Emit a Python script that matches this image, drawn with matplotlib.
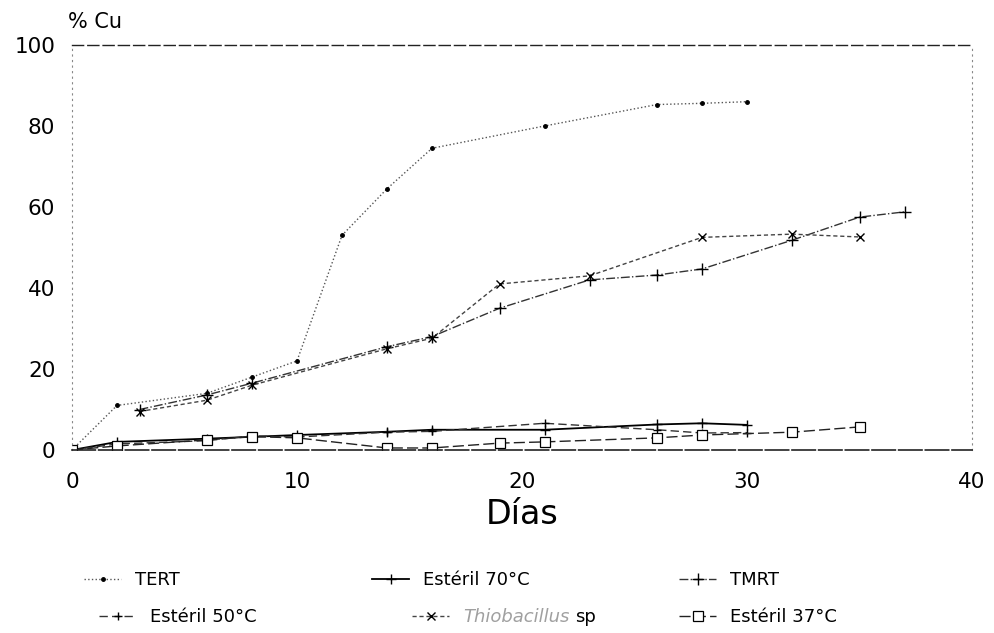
import matplotlib
matplotlib.use("Agg")
import matplotlib.pyplot as plt

plt.rcParams['font.family'] = ['DejaVu Sans']

# ---- data ----
days_tert = [0, 2, 6, 8, 10, 12, 14, 16, 21, 26, 28, 30]
cu_tert = [0, 11, 14, 18, 22, 53, 64.5, 74.5, 80, 85.3, 85.6, 86]

days_e70 = [0, 2, 6, 10, 14, 16, 21, 26, 28, 30]
cu_e70 = [0, 2, 2.8, 3.7, 4.5, 5, 5, 6.3, 6.6, 6.2]

days_tmrt = [3, 6, 8, 14, 16, 19, 23, 26, 28, 32, 35, 37]
cu_tmrt = [10, 13.6, 16.5, 25.5, 28, 35, 42, 43.2, 44.7, 51.8, 57.5, 58.8]

days_e50 = [0, 2, 6, 8, 10, 14, 16, 21, 26, 28, 30]
cu_e50 = [0, 1.5, 2.3, 3.5, 3.2, 4.4, 4.6, 6.6, 5, 4.2, 4.3]

days_thio = [3, 6, 8, 14, 16, 19, 23, 28, 32, 35]
cu_thio = [9.5, 12.3, 16, 25, 27.6, 41, 43, 52.5, 53.3, 52.6]

days_e37 = [0, 2, 6, 8, 10, 14, 16, 19, 21, 26, 28, 32, 35]
cu_e37 = [0, 1, 2.5, 3.3, 3, 0.5, 0.5, 1.7, 2, 3, 3.7, 4.4, 5.7]

x_ticks = [0, 10, 20, 30, 40]
y_ticks = [0, 20, 40, 60, 80, 100]

W, H = 994, 633
fig = plt.figure(figsize=(W / 100, H / 100), dpi=100)
ax = fig.add_axes([72 / W, 1 - 450 / H, 900 / W, 405 / H])

h_tert, = ax.plot(days_tert, cu_tert, linestyle=':', color='#555555', lw=1.0,
                  marker='o', markersize=2.5, markerfacecolor='black', markeredgecolor='black')
h_e70, = ax.plot(days_e70, cu_e70, linestyle='-', color='black', lw=1.3,
                 marker='+', markersize=7, markeredgewidth=1.0)
h_tmrt, = ax.plot(days_tmrt, cu_tmrt, linestyle='-.', color='#333333', lw=1.0,
                  marker='+', markersize=8, markeredgewidth=1.0, markeredgecolor='black')
h_e50, = ax.plot(days_e50, cu_e50, linestyle=(0, (6, 3)), color='#333333', lw=1.0,
                 marker='+', markersize=6, markeredgewidth=1.0, markeredgecolor='black')
h_thio, = ax.plot(days_thio, cu_thio, linestyle=(0, (3, 2)), color='#444444', lw=1.0,
                  marker='x', markersize=6, markeredgewidth=1.0, markeredgecolor='black')
h_e37, = ax.plot(days_e37, cu_e37, linestyle=(0, (8, 3)), color='#222222', lw=1.0,
                 marker='s', markersize=6.5, markerfacecolor='white', markeredgecolor='black',
                 markeredgewidth=0.9)

ax.set_xlim(0, 40)
ax.set_ylim(0, 100)
ax.set_xticks(x_ticks)
ax.set_yticks(y_ticks)
ax.tick_params(axis='both', length=0, labelsize=15.5)
ax.tick_params(axis='x', pad=16)
ax.tick_params(axis='y', pad=12)

for side in ['left', 'right']:
    ax.spines[side].set_linestyle((0, (1, 4)))
    ax.spines[side].set_color('#888888')
    ax.spines[side].set_linewidth(0.8)
ax.spines['top'].set_linestyle((0, (8, 3)))
ax.spines['top'].set_color('#222222')
ax.spines['top'].set_linewidth(1.0)
ax.spines['bottom'].set_linestyle((0, (14, 2)))
ax.spines['bottom'].set_color('#222222')
ax.spines['bottom'].set_linewidth(1.2)

fig.text(68 / W, 1 - 22 / H, '% Cu', fontsize=15, ha='left', va='center')
fig.text(522 / W, 1 - 515 / H, 'Días', fontsize=24, ha='center', va='center')

# legend: one small legend per entry, placed like the reference
fs = 13
fs_px = fs * 100 / 72
hl, htp = 2.0, 0.8
entries = [
    (h_tert, 'TERT', 135, 580),
    (h_e70, 'Estéril 70°C', 423, 580),
    (h_tmrt, 'TMRT', 730, 580),
    (h_e50, 'Estéril 50°C', 150, 617),
    (h_thio, 'Thiobacillus', 463, 617),
    (h_e37, 'Estéril 37°C', 730, 617),
]
thio_text = None
for h, lab, tx, ty in entries:
    x0 = tx - (hl + htp) * fs_px
    leg = fig.legend([h], [lab], loc='center left', bbox_to_anchor=(x0 / W, 1 - ty / H),
                     frameon=False, fontsize=fs, handlelength=hl, handletextpad=htp,
                     borderpad=0, borderaxespad=0)
    for t in leg.get_texts():
        if t.get_text() == 'Thiobacillus':
            t.set_fontstyle('italic')
            t.set_color('#a0a0a0')
            thio_text = t

fig.canvas.draw()
bb = thio_text.get_window_extent(fig.canvas.get_renderer())
fig.text((bb.x1 + 6) / W, 1 - 617 / H, 'sp', fontsize=fs, ha='left', va='center')

fig.savefig('out.png', dpi=100)
